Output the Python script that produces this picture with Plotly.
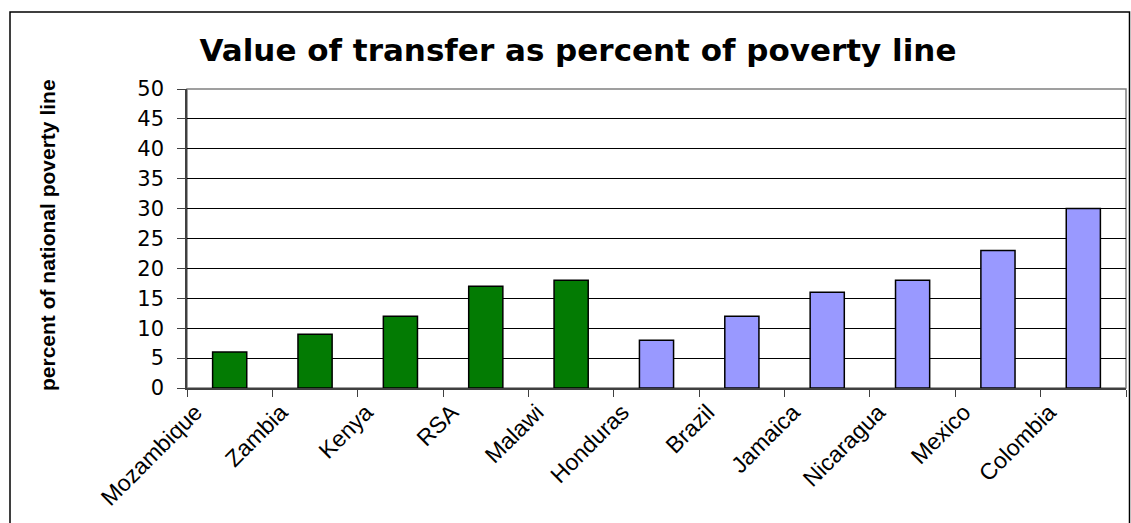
import plotly.graph_objects as go

# Chart data
countries = ["Mozambique", "Zambia", "Kenya", "RSA", "Malawi",
             "Honduras", "Brazil", "Jamaica", "Nicaragua", "Mexico", "Colombia"]
values = [6, 9, 12, 17, 18, 8, 12, 16, 18, 23, 30]
groups = ["Africa"] * 5 + ["Latin America"] * 6
y_ticks = list(range(0, 55, 5))

GREEN = "#037B03"
PURPLE = "#9999FF"
colors = [GREEN if g == "Africa" else PURPLE for g in groups]

W, H = 1131, 523
L, R, T, B = 187, 1126, 89, 388  # plot area in pixels


def px_x(x):
    return (x - L) / (R - L)


def px_y(y):
    return (B - y) / (B - T)


positions = list(range(len(countries)))

fig = go.Figure(
    go.Bar(
        x=positions,
        y=values,
        width=0.4,
        marker=dict(color=colors, line=dict(color="black", width=1.5)),
        hoverinfo="x+y",
    )
)

fig.update_layout(
    width=W,
    height=H,
    margin=dict(l=L, r=W - R, t=T, b=H - B),
    paper_bgcolor="white",
    plot_bgcolor="white",
    showlegend=False,
    title=dict(
        text="<b>Value of transfer as percent of poverty line</b>",
        font=dict(family="DejaVu Sans", size=31, color="black"),
        x=578 / W, xref="container", xanchor="center",
        y=1 - 50 / H, yref="container", yanchor="middle",
    ),
)

fig.update_yaxes(
    range=[0, 50],
    tickvals=y_ticks,
    showgrid=True, gridcolor="black", gridwidth=1,
    showline=True, linecolor="#404040", linewidth=1.5,
    ticks="outside", ticklen=8, tickcolor="#404040",
    ticklabelstandoff=9,
    tickfont=dict(family="DejaVu Sans", size=21, color="black"),
    zeroline=False,
)

fig.update_xaxes(
    range=[-0.5, len(countries) - 0.5],
    tickvals=[p - 0.4 for p in positions],
    ticktext=countries,
    tickangle=-45,
    ticks="",
    ticklabelstandoff=0,
    tickfont=dict(family="Liberation Sans", size=23, color="black"),
    showgrid=False, zeroline=False,
    showline=True, linecolor="#404040", linewidth=1.5,
    minor=dict(
        tickvals=[p - 0.5 for p in positions] + [len(countries) - 0.5],
        ticks="outside", ticklen=7, tickcolor="#404040", showgrid=False,
    ),
)

# y-axis title
fig.add_annotation(
    text="<b>percent of national poverty line</b>",
    textangle=-90,
    x=px_x(47), y=px_y(235), xref="paper", yref="paper",
    xanchor="center", yanchor="middle", showarrow=False,
    font=dict(family="Liberation Sans", size=21, color="black"),
)

# plot-area frame and outer chart border
fig.add_shape(type="rect", xref="paper", yref="paper",
              x0=0, x1=1, y0=0, y1=1,
              line=dict(color="#808080", width=1.5), layer="below")
fig.add_shape(type="rect", xref="paper", yref="paper",
              x0=px_x(10), x1=px_x(1129.5), y0=px_y(540), y1=px_y(12),
              line=dict(color="black", width=1.5))

fig.write_html("out.html")
